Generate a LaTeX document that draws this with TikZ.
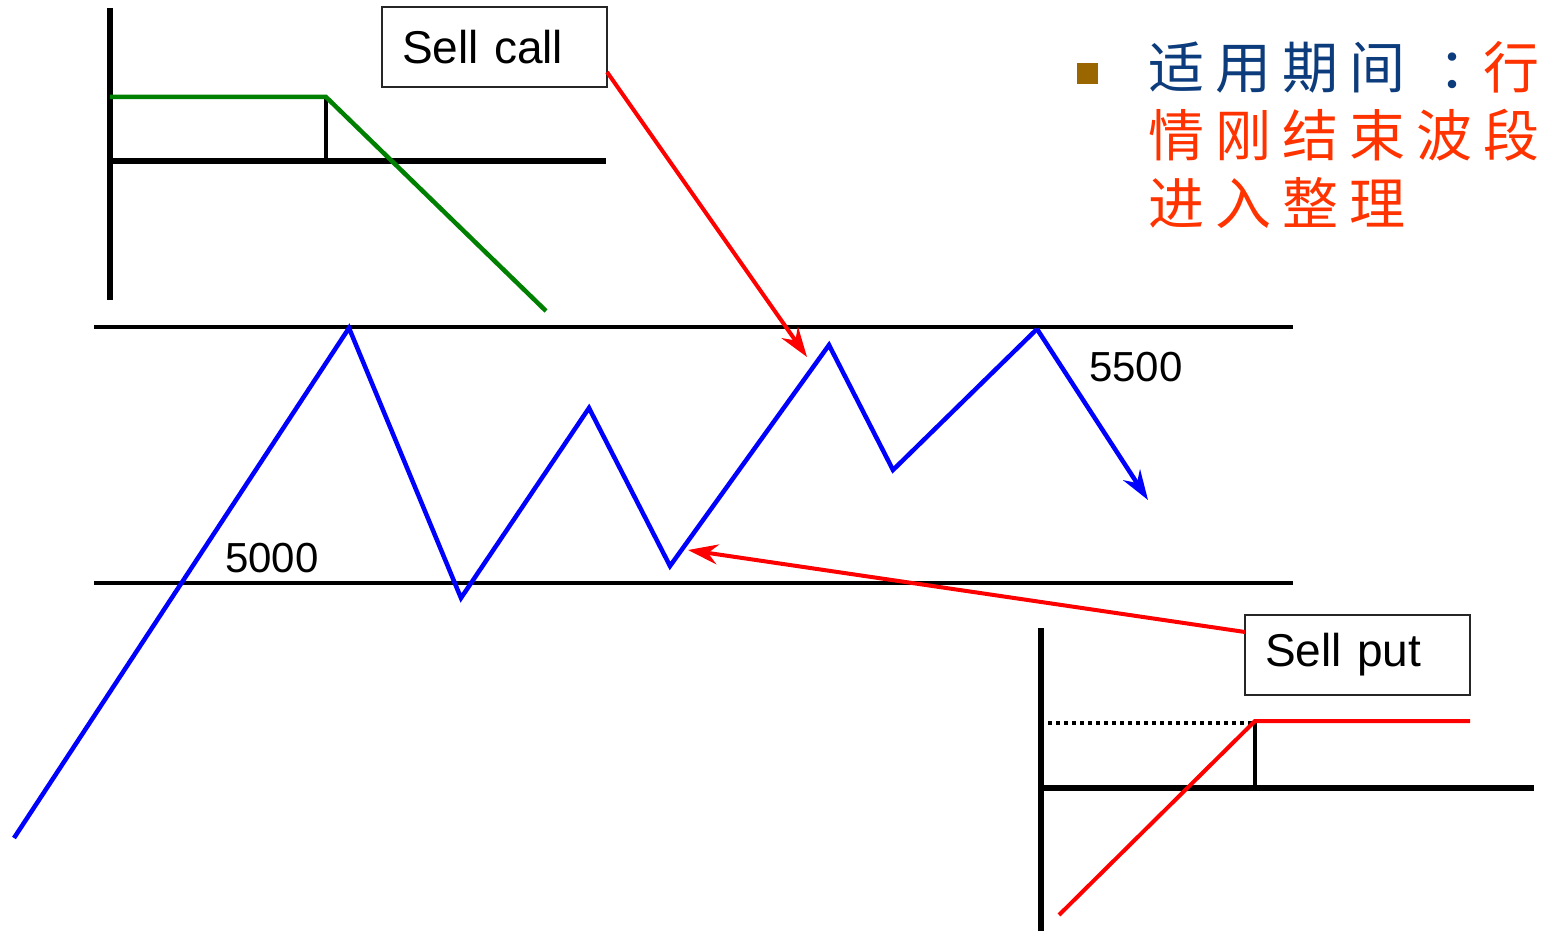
\documentclass[tikz,border=0pt]{standalone}
\usepackage{fontspec}
\setmainfont{Liberation Sans}
\newfontfamily\cjk{Noto Sans CJK SC}
\usetikzlibrary{arrows.meta}
\definecolor{cnblue}{RGB}{12,60,124}
\definecolor{cnred}{RGB}{255,51,0}
\definecolor{bulletbrown}{RGB}{153,102,0}
\definecolor{pgreen}{RGB}{0,128,0}
\newcommand{\cchar}[1]{\makebox[67pt][l]{#1}}
\begin{document}
\begin{tikzpicture}[x=1pt,y=-1pt,
  axis/.style={line width=5.5pt,black},
  level/.style={line width=4.5pt,black},
  tick/.style={line width=4.5pt,black},
  wave/.style={line width=4.5pt,blue,line join=miter},
  pointer/.style={line width=4pt,red,-{Stealth[length=30pt,width=20pt]}},
  labelbox/.style={draw=black!85,line width=2pt,fill=white,minimum width=225pt,minimum height=80pt,
     text width=185pt,inner xsep=20pt,align=left,font=\fontsize{46}{50}\selectfont},
  numlabel/.style={font=\fontsize{42}{46}\selectfont,inner sep=0pt,anchor=base west},
  cjktext/.style={font=\cjk\fontsize{56}{60}\selectfont,inner sep=0pt,anchor=base west}
]
\useasboundingbox (0,0) rectangle (1556,931);

% levels
\draw[level] (94,327) coordinate (tl) -- (1293,327) coordinate (tr);
\draw[level] (94,583) coordinate (bl) -- (1293,583) coordinate (br);

% price path
\coordinate (p0) at (14,838);
\coordinate (p1) at (349,328);
\coordinate (p2) at (461,598);
\coordinate (p3) at (589,408);
\coordinate (p4) at (670,566);
\coordinate (p5) at (829,345);
\coordinate (p6) at (893,470);
\coordinate (p7) at (1037,329);
\coordinate (p8) at (1148,500);
\draw[wave] (p0) -- (p1) -- (p2) -- (p3) -- (p4) -- (p5) -- (p6) -- (p7);
\draw[wave,-{Stealth[length=30pt,width=20pt]}] (p7) -- (p8);

\node[numlabel] (n5500) at (1089,381) {5500};
\node[numlabel] (n5000) at (225,572) {5000};

% sell call payoff
\draw[axis] (110,8) coordinate (cv1) -- (110,300) coordinate (cv2);
\draw[axis] (110,161) coordinate (ch1) -- (606,161) coordinate (ch2);
\draw[tick] (326,97) coordinate (ck1) -- (326,161) coordinate (ck2);
\draw[line width=4.5pt,pgreen] (110,97) coordinate (cg1) -- (ck1) -- (546,311) coordinate (cg2);

% sell put payoff
\draw[axis] (1041,628) coordinate (pv1) -- (1041,931) coordinate (pv2);
\draw[axis] (1041,788) coordinate (ph1) -- (1534,788) coordinate (ph2);
\draw[tick] (1255,723) coordinate (pk1) -- (1255,788) coordinate (pk2);
\draw[line width=4pt,dash pattern=on 4pt off 4pt] (1048,723) coordinate (pd1) -- (pk1);
\draw[line width=4pt,red] (1059,915) coordinate (pr1) -- (1255,721) coordinate (pr2) -- (1470,721) coordinate (pr3);

% boxes
\node[labelbox] (sellcall) at (494.5,47) {Sell call};
\node[labelbox] (sellput) at (1357.5,655) {Sell put};

% pointers
\coordinate (cs) at (607,72);
\coordinate (ce) at (807,357);
\draw[pointer] (cs) -- (ce);
\coordinate (ps) at (1245,632);
\coordinate (pe) at (688,550);
\draw[pointer] (ps) -- (pe);

% bullet text
\node[fill=bulletbrown,minimum width=21pt,minimum height=21pt,inner sep=0pt] (bullet) at (1087.5,73.5) {};
\node[cjktext] (line1) at (1148,89) {\color{cnblue}\cchar{适}\cchar{用}\cchar{期}\cchar{间}\makebox[67pt][l]{\hspace{22pt}：}\color{cnred}\cchar{行}};
\node[cjktext,text=cnred] (line2) at (1148,157) {\cchar{情}\cchar{刚}\cchar{结}\cchar{束}\cchar{波}\cchar{段}};
\node[cjktext,text=cnred] (line3) at (1148,224) {\cchar{进}\cchar{入}\cchar{整}\cchar{理}};
\end{tikzpicture}
\end{document}
